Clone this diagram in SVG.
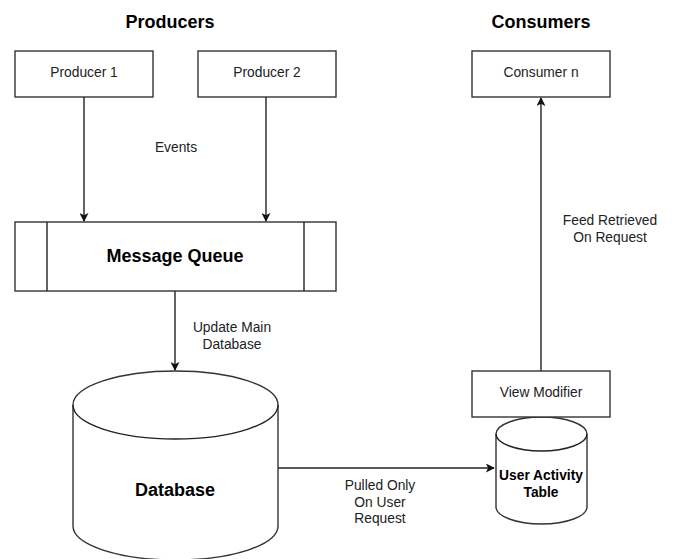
<svg xmlns="http://www.w3.org/2000/svg" width="675" height="559" viewBox="0 0 675 559">
<style>
.box{fill:#fff;stroke:#333;stroke-width:1.4}
.edge{fill:none;stroke:#222;stroke-width:1.4}
text{font-family:"Liberation Sans",Arial,sans-serif;fill:#222;text-anchor:middle}
.lbl{font-size:13.8px}
.title{font-size:18px;font-weight:bold;fill:#000}
.bold{font-weight:bold;fill:#000}
</style>
<defs>
<marker id="arr" viewBox="0 0 10 10" refX="9" refY="5" markerWidth="9" markerHeight="9" markerUnits="userSpaceOnUse" orient="auto">
<path d="M0,0 L10,5 L0,10 L2.5,5 Z" fill="#111"/>
</marker>
</defs>
<rect width="675" height="559" fill="#fff"/>
<text class="title" x="170" y="28">Producers</text>
<text class="title" x="541" y="28">Consumers</text>
<g id="edges">
<path class="edge" d="M84,97 V221" marker-end="url(#arr)"/>
<path class="edge" d="M266,97 V221" marker-end="url(#arr)"/>
<path class="edge" d="M175,291 V370" marker-end="url(#arr)"/>
<path class="edge" d="M278,468 H494" marker-end="url(#arr)"/>
<path class="edge" d="M541,371 V98" marker-end="url(#arr)"/>
<text class="lbl" x="176" y="152">Events</text>
<text class="lbl" x="232" y="332">Update Main</text>
<text class="lbl" x="232" y="349">Database</text>
<text class="lbl" x="380" y="490">Pulled Only</text>
<text class="lbl" x="380" y="507">On User</text>
<text class="lbl" x="380" y="523">Request</text>
<text class="lbl" x="610" y="225">Feed  Retrieved</text>
<text class="lbl" x="610" y="242">On Request</text>
</g>
<g id="producer1">
<rect class="box" x="15" y="51" width="138" height="46"/>
<text class="lbl" x="84" y="77">Producer 1</text>
</g>
<g id="producer2">
<rect class="box" x="198" y="51" width="138" height="46"/>
<text class="lbl" x="267" y="77">Producer 2</text>
</g>
<g id="consumer">
<rect class="box" x="472" y="51" width="138" height="46"/>
<text class="lbl" x="541" y="77">Consumer n</text>
</g>
<g id="queue">
<rect class="box" x="15" y="222" width="321" height="69"/>
<path class="edge" d="M47,222 V291 M304,222 V291"/>
<text class="bold" x="175" y="262" font-size="18">Message Queue</text>
</g>
<g id="database">
<path class="box" d="M73,405 A102.5,34 0 0 1 278,405 V526 A102.5,34 0 0 1 73,526 Z"/>
<path class="edge" d="M73,405 A102.5,34 0 0 0 278,405"/>
<text class="bold" x="175" y="496" font-size="18">Database</text>
</g>
<g id="useractivity">
<path class="box" d="M496,434 A45.5,17 0 0 1 587,434 V507 A45.5,17 0 0 1 496,507 Z"/>
<path class="edge" d="M496,434 A45.5,17 0 0 0 587,434"/>
<text class="bold" x="541" y="480" font-size="13.8">User Activity</text>
<text class="bold" x="541" y="497" font-size="13.8">Table</text>
</g>
<g id="viewmodifier">
<rect class="box" x="472" y="371" width="138" height="46"/>
<text class="lbl" x="541" y="397">View Modifier</text>
</g>
</svg>
